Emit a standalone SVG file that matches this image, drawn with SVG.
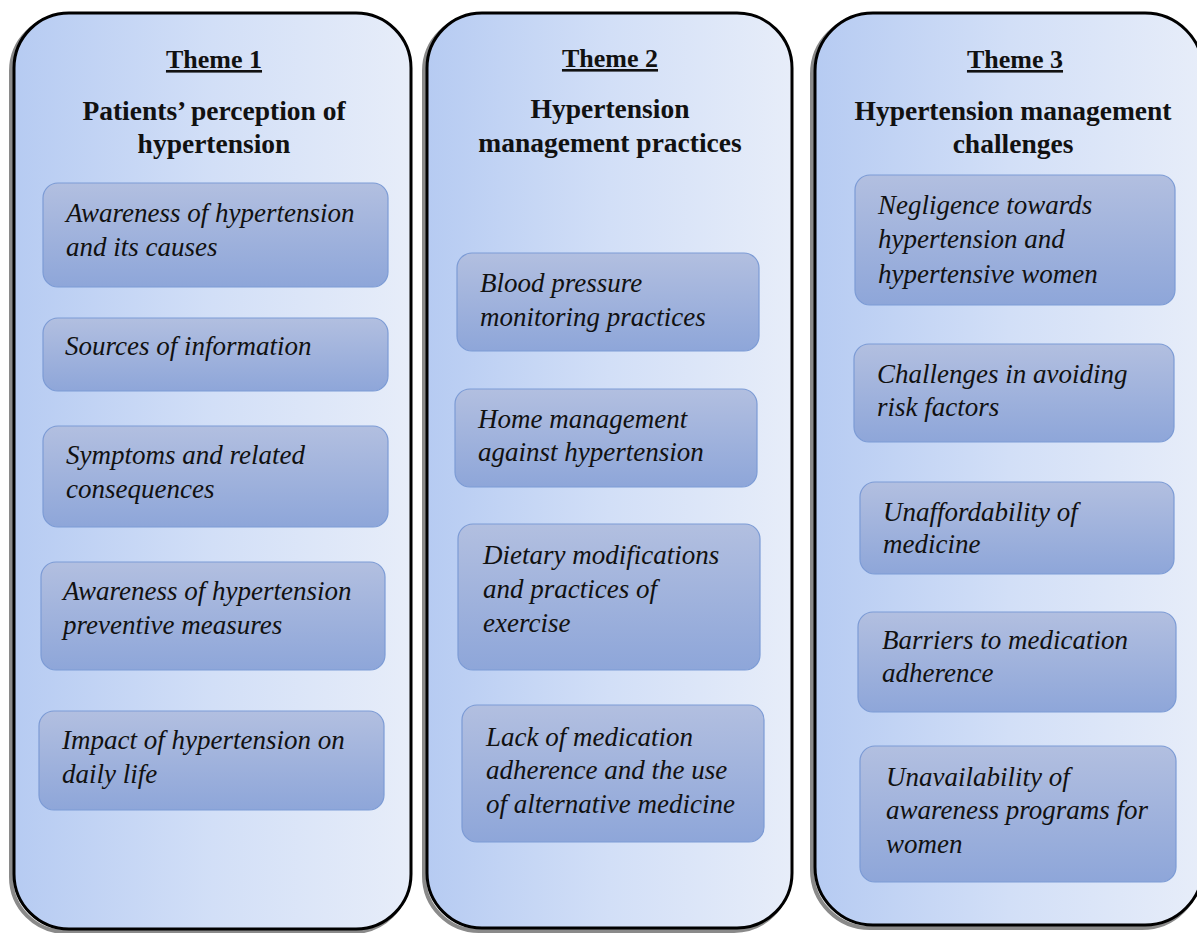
<svg xmlns="http://www.w3.org/2000/svg" width="1197" height="933" viewBox="0 0 1197 933">
<defs>
<linearGradient id="colG" x1="0" y1="0" x2="1" y2="0">
<stop offset="0" stop-color="#b6cbf2"/>
<stop offset="0.5" stop-color="#d2dff7"/>
<stop offset="1" stop-color="#e7edf9"/>
</linearGradient>
<linearGradient id="boxG" x1="0" y1="0" x2="0" y2="1">
<stop offset="0" stop-color="#b2bfe0"/>
<stop offset="1" stop-color="#8ea6d9"/>
</linearGradient>
</defs>
<style>
.shadow{fill:none;stroke:#8a8a8a;stroke-width:4}
.col{fill:url(#colG);stroke:#000;stroke-width:3}
.box{fill:url(#boxG);stroke:#7c9bd5;stroke-width:1.2}
.theme{font-family:"Liberation Serif","Times New Roman",serif;font-weight:bold;font-size:26px;text-anchor:middle;text-decoration:underline;fill:#111}
.head{font-family:"Liberation Serif","Times New Roman",serif;font-weight:bold;font-size:27.5px;text-anchor:middle;fill:#111}
.t{font-family:"Liberation Serif","Times New Roman",serif;font-style:italic;font-size:27px;fill:#111}
</style>
<rect width="1197" height="933" fill="#fff"/>

<g id="theme1">
<rect class="shadow" x="11" y="16" width="397" height="916" rx="55"/>
<rect class="col" x="14" y="13" width="397" height="916" rx="55"/>
<text class="theme" x="214" y="68">Theme 1</text>
<text class="head" x="214" y="120">Patients’ perception of</text>
<text class="head" x="214" y="153">hypertension</text>
</g>
<g id="theme2">
<rect class="shadow" x="424" y="16" width="365" height="915" rx="55"/>
<rect class="col" x="427" y="13" width="365" height="915" rx="55"/>
<text class="theme" x="610" y="67">Theme 2</text>
<text class="head" x="610" y="118">Hypertension</text>
<text class="head" x="610" y="152">management practices</text>
</g>
<g id="theme3">
<rect class="shadow" x="812" y="16" width="388" height="912" rx="58"/>
<rect class="col" x="815" y="13" width="388" height="912" rx="58"/>
<text class="theme" x="1015" y="68">Theme 3</text>
<text class="head" x="1013" y="120">Hypertension management</text>
<text class="head" x="1013" y="153">challenges</text>
</g>

<g id="t1-awareness-causes">
<rect class="box" x="43" y="183" width="345" height="104" rx="15"/>
<text class="t" x="66" y="222">Awareness of hypertension</text>
<text class="t" x="66" y="256">and its causes</text>
</g>
<g id="t1-sources">
<rect class="box" x="43" y="318" width="345" height="73" rx="15"/>
<text class="t" x="65" y="355">Sources of information</text>
</g>
<g id="t1-symptoms">
<rect class="box" x="43" y="426" width="345" height="101" rx="15"/>
<text class="t" x="66" y="464">Symptoms and related</text>
<text class="t" x="66" y="498">consequences</text>
</g>
<g id="t1-preventive">
<rect class="box" x="41" y="562" width="344" height="108" rx="15"/>
<text class="t" x="63" y="600">Awareness of hypertension</text>
<text class="t" x="63" y="634">preventive measures</text>
</g>
<g id="t1-impact">
<rect class="box" x="39" y="711" width="345" height="99" rx="15"/>
<text class="t" x="62" y="749">Impact of hypertension on</text>
<text class="t" x="62" y="783">daily life</text>
</g>

<g id="t2-bp">
<rect class="box" x="457" y="253" width="302" height="98" rx="15"/>
<text class="t" x="480" y="292">Blood pressure</text>
<text class="t" x="480" y="326">monitoring practices</text>
</g>
<g id="t2-home">
<rect class="box" x="455" y="389" width="302" height="98" rx="15"/>
<text class="t" x="478" y="428">Home management</text>
<text class="t" x="478" y="461">against hypertension</text>
</g>
<g id="t2-diet">
<rect class="box" x="458" y="524" width="302" height="146" rx="15"/>
<text class="t" x="483" y="564">Dietary modifications</text>
<text class="t" x="483" y="598">and practices of</text>
<text class="t" x="483" y="632">exercise</text>
</g>
<g id="t2-lack">
<rect class="box" x="462" y="705" width="302" height="137" rx="15"/>
<text class="t" x="486" y="746">Lack of medication</text>
<text class="t" x="486" y="779">adherence and the use</text>
<text class="t" x="486" y="813">of alternative medicine</text>
</g>

<g id="t3-negligence">
<rect class="box" x="855" y="175" width="320" height="130" rx="15"/>
<text class="t" x="878" y="214">Negligence towards</text>
<text class="t" x="878" y="248">hypertension and</text>
<text class="t" x="878" y="283">hypertensive women</text>
</g>
<g id="t3-challenges">
<rect class="box" x="854" y="344" width="320" height="98" rx="15"/>
<text class="t" x="877" y="383">Challenges in avoiding</text>
<text class="t" x="877" y="416">risk factors</text>
</g>
<g id="t3-unaffordability">
<rect class="box" x="860" y="482" width="314" height="92" rx="15"/>
<text class="t" x="883" y="521">Unaffordability of</text>
<text class="t" x="883" y="553">medicine</text>
</g>
<g id="t3-barriers">
<rect class="box" x="858" y="612" width="318" height="100" rx="15"/>
<text class="t" x="882" y="649">Barriers to medication</text>
<text class="t" x="882" y="682">adherence</text>
</g>
<g id="t3-unavailability">
<rect class="box" x="860" y="746" width="316" height="136" rx="15"/>
<text class="t" x="886" y="786">Unavailability of</text>
<text class="t" x="886" y="819">awareness programs for</text>
<text class="t" x="886" y="853">women</text>
</g>

<g id="connectors"></g>
</svg>
